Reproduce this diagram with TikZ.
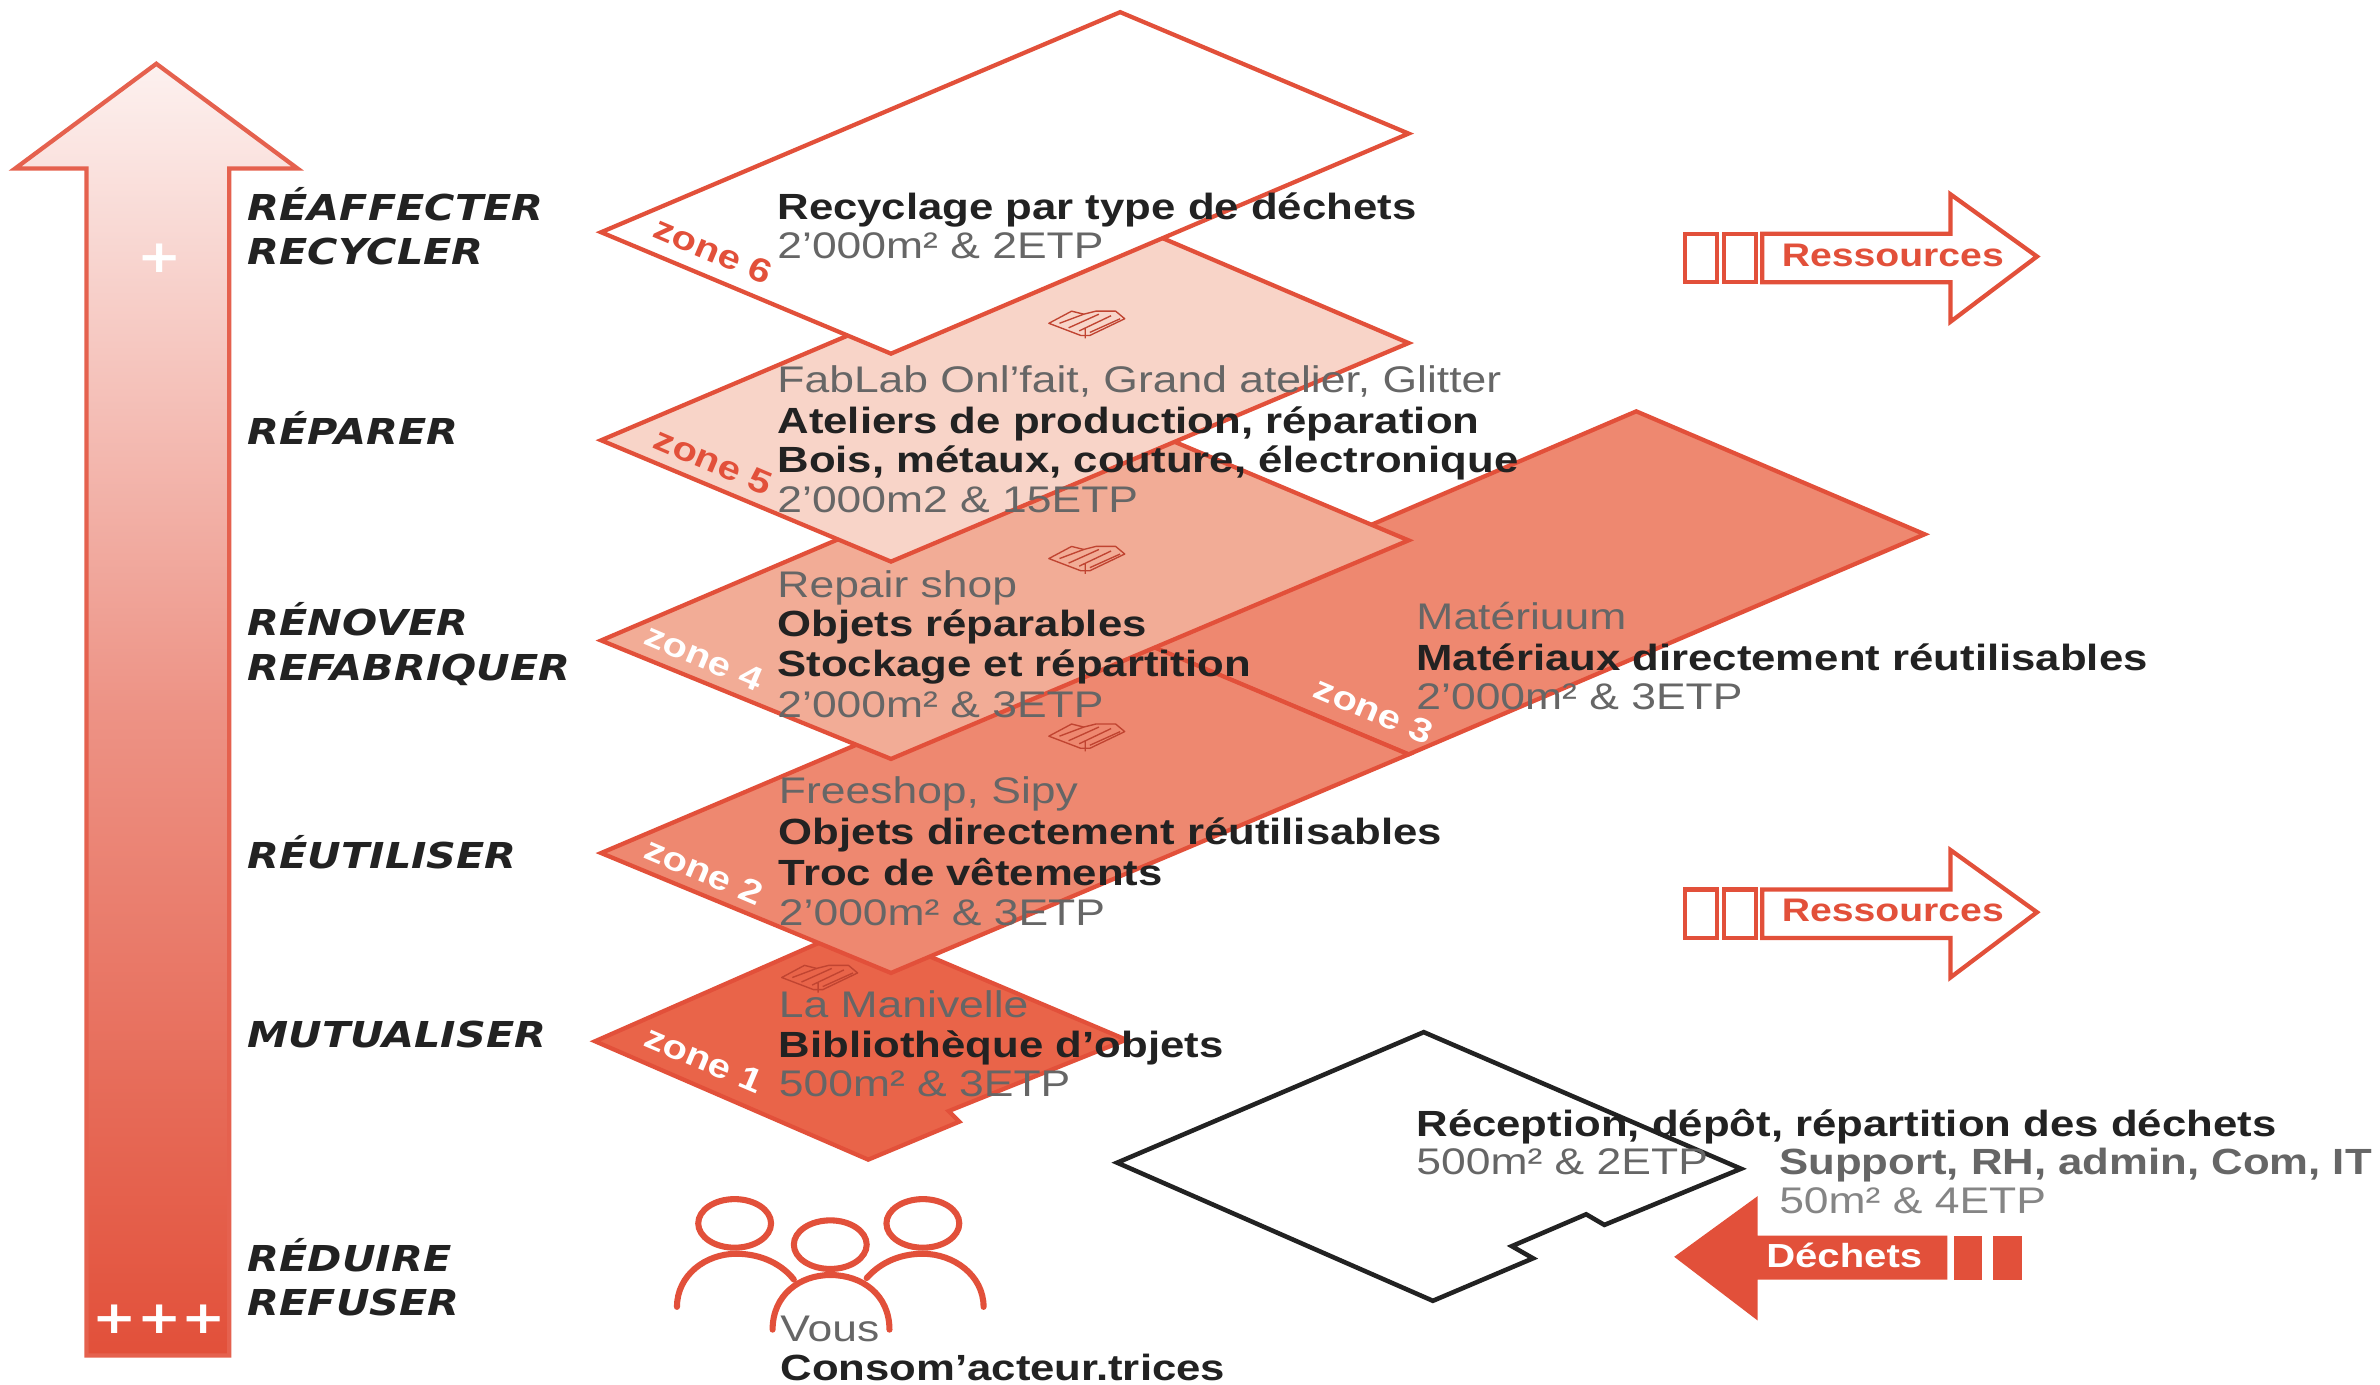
\documentclass[tikz,border=0pt]{standalone}
\usepackage{fontspec}
\setmainfont{Liberation Sans}
\newfontfamily\rb[FakeStretch=1.2]{Liberation Sans}
\newfontfamily\hw[FakeStretch=1.16]{DejaVu Sans}
\usetikzlibrary{shapes.geometric}
\definecolor{rd}{HTML}{E2503A}
\definecolor{zf5}{HTML}{F8D4C8}
\definecolor{zf4}{HTML}{F2AC96}
\definecolor{zf3}{HTML}{EE8870}
\definecolor{zf1}{HTML}{E96449}
\definecolor{dk}{HTML}{222222}
\definecolor{gy}{HTML}{666666}
\tikzset{
 x=1pt,y=-1pt,
 zonebox/.style={draw=rd,line width=2.8pt,line join=miter},
 lab/.style={anchor=base west,inner sep=0pt,yshift=-8.5pt,text=gy,font=\rb\fontsize{24.4}{24.4}\selectfont},
 labb/.style={anchor=base west,inner sep=0pt,yshift=-8.5pt,text=dk,font=\rb\bfseries\fontsize{24}{24}\selectfont},
 verb/.style={anchor=base west,inner sep=0pt,yshift=-9pt,text=dk,font=\hw\bfseries\itshape\fontsize{23.5}{23.5}\selectfont},
 zlab/.style={inner sep=0pt,rotate=-23,font=\rb\bfseries\fontsize{22}{22}\selectfont},
 plusmark/.style={inner sep=0pt,text=white,font=\hw\bfseries\fontsize{30}{30}\selectfont},
 arrowout/.style={draw=rd,line width=2.8pt,fill=white},
 heartline/.style={draw=rd!85!black,line width=0.9pt,line join=round},
 person/.style={draw=rd,line width=4pt,line cap=round},
 headring/.style={draw=rd,line width=4pt},
}
\newcommand{\heartmark}[2]{%
 \begin{scope}[shift={(#1,#2)}]
  \draw[heartline] (-24,0) -- (-9,-8) -- (-1,-6) -- (7,-8) -- (20,-8) -- (26,-3) -- (3,8) -- (-3,8) -- cycle;
  \draw[heartline] (-17,0) -- (-1,-6) (-11,3) -- (9,-6) (-4,5) -- (17,-5) (3,6) -- (23,-3) (0,3) -- (0,10);
 \end{scope}}
\begin{document}
\begin{tikzpicture}
\useasboundingbox (0,0) rectangle (1568,912);
\fill[white] (0,0) rectangle (1568,912);
% big arrow
\path[draw=rd!90!white,line width=2.8pt,top color=rd!8!white,bottom color=rd,middle color=rd!62!white]
 (103,42) -- (196,111) -- (151,111) -- (151,893) -- (57,893) -- (57,111) -- (10,111) -- cycle;
% zones, back to front
\path[zonebox,fill=zf1] (392,686) -- (565,610) -- (742,685) -- (625,732) -- (632,739) -- (572,764) -- cycle;
\path[zonebox,fill=zf3] (737,417) -- (1078,271) -- (1268,352) -- (928,497) -- cycle;
\path[zonebox,fill=zf3] (396,562) -- (738,417) -- (928,497) -- (587,641) -- cycle;
\path[zonebox,fill=zf4] (396,422) -- (738,276) -- (928,356) -- (587,500) -- cycle;
\path[zonebox,fill=zf5] (396,290) -- (738,145) -- (928,226) -- (587,370) -- cycle;
\path[zonebox,fill=white] (396,153) -- (738,8) -- (928,88) -- (587,233) -- cycle;
% hearts
\heartmark{715}{213}
\heartmark{715}{368}
\heartmark{715}{485}
\heartmark{539}{644}
% reception
\path[draw=dk,line width=3pt,fill=white] (736,766) -- (938,680) -- (1147,770) -- (1057,807) -- (1045,800) -- (996,821) -- (1010,829) -- (944,857) -- cycle;
% ressources
\foreach \dy in {0,432}{
 \begin{scope}[yshift=-\dy pt]
  \path[arrowout] (1110,154) rectangle (1131,186);
  \path[arrowout] (1136,154) rectangle (1157,186);
  \path[arrowout] (1161,154) -- (1285,154) -- (1285,128) -- (1342,169) -- (1285,212) -- (1285,186) -- (1161,186) -- cycle;
 \end{scope}}
% dechets
\fill[rd] (1103,828) -- (1158,788) -- (1158,814) -- (1283,814) -- (1283,843) -- (1158,843) -- (1158,870) -- cycle;
\fill[rd] (1287,814) rectangle (1306,843);
\fill[rd] (1313,814) rectangle (1332,843);
% people
\draw[headring] (484,806) ellipse [x radius=24pt,y radius=16pt];
\draw[headring] (547,820) ellipse [x radius=24pt,y radius=16pt];
\draw[headring] (608,806) ellipse [x radius=24pt,y radius=16pt];
\draw[person] (446,861) .. controls (446,840) and (465,826) .. (485,826) .. controls (503,826) and (516,834) .. (523,843);
\draw[person] (648,861) .. controls (648,840) and (628,826) .. (608,826) .. controls (590,826) and (578,834) .. (571,842);
\draw[person] (509,876) .. controls (509,853) and (527,840) .. (547,840) .. controls (568,840) and (586,853) .. (586,876);
% verbs
\node[verb] (v1) at (163,136) {RÉAFFECTER};
\node[verb] (v2) at (163,165) {RECYCLER};
\node[verb] (v3) at (163,284) {RÉPARER};
\node[verb] (v4) at (163,410) {RÉNOVER};
\node[verb] (v5) at (163,439) {REFABRIQUER};
\node[verb] (v6) at (163,563) {RÉUTILISER};
\node[verb] (v7) at (163,681) {MUTUALISER};
\node[verb] (v8) at (163,829) {RÉDUIRE};
\node[verb] (v9) at (163,858) {REFUSER};
\node[plusmark] (p1) at (105,170) {+};
\node[plusmark] (p3) at (105,869) {+++};
% zone labels
\node[zlab,text=rd] (z6) at (470,165) {zone 6};
\node[zlab,text=rd] (z5) at (470,304) {zone 5};
\node[zlab,text=white] (z4) at (464,433) {zone 4};
\node[zlab,text=white] (z3) at (905,468) {zone 3};
\node[zlab,text=white] (z2) at (464,574) {zone 2};
\node[zlab,text=white] (z1) at (464,698) {zone 1};
% texts
\node[labb] (a1) at (512,136) {Recyclage par type de déchets};
\node[lab] (a2) at (512,162) {2’000m² \& 2ETP};
\node[lab] (b1) at (512,250) {FabLab Onl’fait, Grand atelier, Glitter};
\node[labb] (b2) at (512,277) {Ateliers de production, réparation};
\node[labb] (b3) at (512,303) {Bois, métaux, couture, électronique};
\node[lab] (b4) at (512,329) {2’000m2 \& 15ETP};
\node[lab] (c1) at (512,385) {Repair shop};
\node[labb] (c2) at (512,411) {Objets réparables};
\node[labb] (c3) at (512,437) {Stockage et répartition};
\node[lab] (c4) at (512,464) {2’000m² \& 3ETP};
\node[lab] (d1) at (933,406) {Matériuum};
\node[labb] (d2) at (933,433) {Matériaux directement réutilisables};
\node[lab] (d3) at (933,459) {2’000m² \& 3ETP};
\node[lab] (e1) at (513,521) {Freeshop, Sipy};
\node[labb] (e2) at (513,548) {Objets directement réutilisables};
\node[labb] (e3) at (513,575) {Troc de vêtements};
\node[lab] (e4) at (513,601) {2’000m² \& 3ETP};
\node[lab] (f1) at (513,662) {La Manivelle};
\node[labb] (f2) at (513,688) {Bibliothèque d’objets};
\node[lab] (f3) at (513,714) {500m² \& 3ETP};
\node[labb] (g1) at (933,740) {Réception, dépôt, répartition des déchets};
\node[lab] (g2) at (933,765) {500m² \& 2ETP};
\node[labb,text=gy] (h1) at (1172,765) {Support, RH, admin, Com, IT};
\node[lab,text=gy!80!white] (h2) at (1172,791) {50m² \& 4ETP};
\node[lab] (i1) at (514,875) {Vous};
\node[labb] (i2) at (514,901) {Consom’acteur.trices};
\node[anchor=center,inner sep=0pt,text=rd,font=\rb\bfseries\fontsize{21.5}{21.5}\selectfont] (r1) at (1247,168) {Ressources};
\node[anchor=center,inner sep=0pt,text=rd,font=\rb\bfseries\fontsize{21.5}{21.5}\selectfont] (r2) at (1247,600) {Ressources};
\node[anchor=center,inner sep=0pt,text=white,font=\rb\bfseries\fontsize{22}{22}\selectfont] (r3) at (1215,827) {Déchets};
\end{tikzpicture}
\end{document}
